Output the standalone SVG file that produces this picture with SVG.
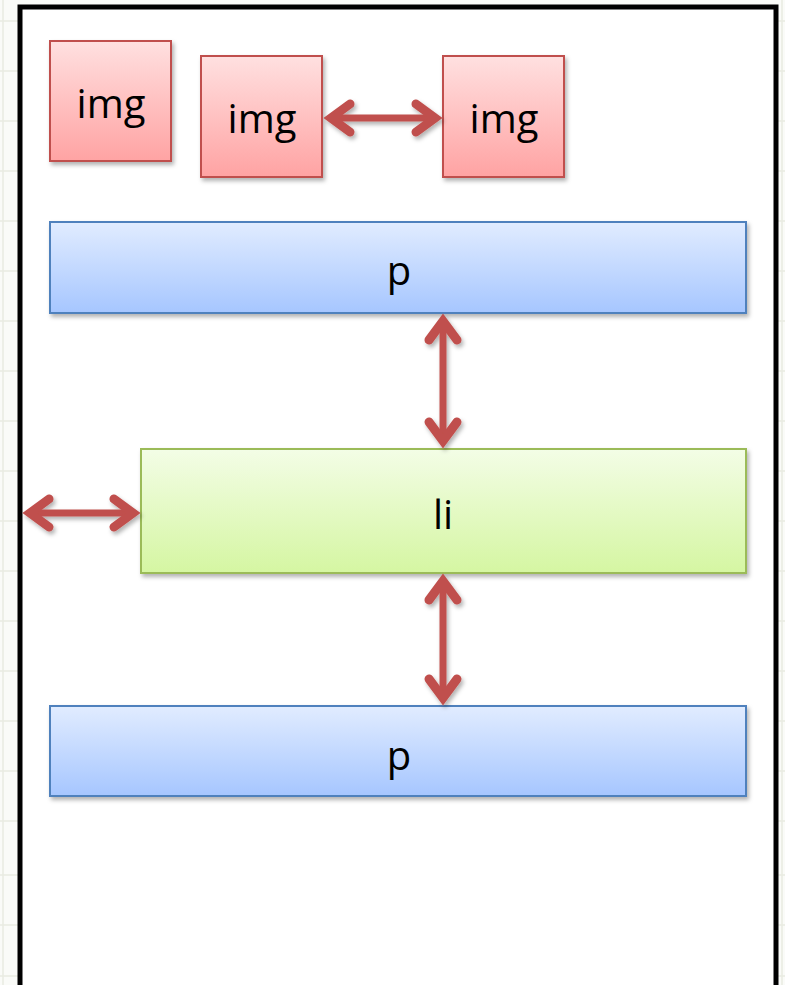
<svg xmlns="http://www.w3.org/2000/svg" width="785" height="985" viewBox="0 0 785 985">
  <style>
    .grid line { stroke: #e8ebe2; stroke-width: 1.5; }
    .lbl { font-family: "Open Sans", "Liberation Sans", sans-serif; font-size: 40px; fill: #000; text-anchor: middle; }
    .red { fill: url(#gRed); stroke: #c0504d; stroke-width: 2; }
    .blue { fill: url(#gBlue); stroke: #4f81bd; stroke-width: 2; }
    .green { fill: url(#gGreen); stroke: #9bbb59; stroke-width: 2; }
    .conn { stroke: #c0504d; stroke-width: 7; fill: none; marker-start: url(#ah); marker-end: url(#ah); }
  </style>
  <defs>
    <linearGradient id="gRed" x1="0" y1="0" x2="0" y2="1">
      <stop offset="0" stop-color="#ffe0e0"/>
      <stop offset="1" stop-color="#ffa3a3"/>
    </linearGradient>
    <linearGradient id="gBlue" x1="0" y1="0" x2="0" y2="1">
      <stop offset="0" stop-color="#e1ecff"/>
      <stop offset="1" stop-color="#a6c6ff"/>
    </linearGradient>
    <linearGradient id="gGreen" x1="0" y1="0" x2="0" y2="1">
      <stop offset="0" stop-color="#f3fde6"/>
      <stop offset="1" stop-color="#d5f6a2"/>
    </linearGradient>
    <filter id="sh" x="-10%" y="-10%" width="130%" height="140%">
      <feDropShadow dx="2" dy="3" stdDeviation="2" flood-color="#000" flood-opacity="0.3"/>
    </filter>
    <marker id="ah" markerUnits="userSpaceOnUse" viewBox="-30 -22 45 44" markerWidth="45" markerHeight="44" refX="0" refY="0" orient="auto-start-reverse" overflow="visible">
      <path d="M -17 -14 L 2 0 L -17 14" fill="none" stroke="#c0504d" stroke-width="9" stroke-linecap="round" stroke-linejoin="miter" stroke-miterlimit="4"/>
    </marker>
  </defs>

  <rect x="0" y="0" width="785" height="985" fill="#fafbf8"/>
  <g class="grid">
    <line x1="0" y1="21" x2="785" y2="21"/>
    <line x1="0" y1="71" x2="785" y2="71"/>
    <line x1="0" y1="121" x2="785" y2="121"/>
    <line x1="0" y1="171" x2="785" y2="171"/>
    <line x1="0" y1="221" x2="785" y2="221"/>
    <line x1="0" y1="271" x2="785" y2="271"/>
    <line x1="0" y1="321" x2="785" y2="321"/>
    <line x1="0" y1="371" x2="785" y2="371"/>
    <line x1="0" y1="421" x2="785" y2="421"/>
    <line x1="0" y1="471" x2="785" y2="471"/>
    <line x1="0" y1="521" x2="785" y2="521"/>
    <line x1="0" y1="571" x2="785" y2="571"/>
    <line x1="0" y1="621" x2="785" y2="621"/>
    <line x1="0" y1="671" x2="785" y2="671"/>
    <line x1="0" y1="721" x2="785" y2="721"/>
    <line x1="0" y1="771" x2="785" y2="771"/>
    <line x1="0" y1="821" x2="785" y2="821"/>
    <line x1="0" y1="875" x2="785" y2="875"/>
    <line x1="0" y1="925" x2="785" y2="925"/>
    <line x1="0" y1="976" x2="785" y2="976"/>
    <line x1="3" y1="0" x2="3" y2="985"/>
    <line x1="782" y1="0" x2="782" y2="985"/>
  </g>

  <rect id="frame" x="20" y="7" width="756" height="1000" fill="#ffffff" stroke="#000000" stroke-width="5"/>

  <g id="img1">
    <rect class="red" x="50" y="41" width="121" height="120" filter="url(#sh)"/>
    <text class="lbl" x="111" y="118">img</text>
  </g>
  <g id="img2">
    <rect class="red" x="201" y="56" width="121" height="121" filter="url(#sh)"/>
    <text class="lbl" x="262" y="133">img</text>
  </g>
  <g id="img3">
    <rect class="red" x="443" y="56" width="121" height="121" filter="url(#sh)"/>
    <text class="lbl" x="504" y="133">img</text>
  </g>
  <g id="p1">
    <rect class="blue" x="50" y="222" width="696" height="91" filter="url(#sh)"/>
    <text class="lbl" x="399" y="285">p</text>
  </g>
  <g id="li">
    <rect class="green" x="141" y="449" width="605" height="124" filter="url(#sh)"/>
    <text class="lbl" x="443" y="529">li</text>
  </g>
  <g id="p2">
    <rect class="blue" x="50" y="706" width="696" height="90" filter="url(#sh)"/>
    <text class="lbl" x="399" y="770">p</text>
  </g>

  <g id="connectors" filter="url(#sh)">
    <path class="conn" d="M 333 118 L 433 118"/>
    <path class="conn" d="M 443 323 L 443 439"/>
    <path class="conn" d="M 32 513 L 131 513"/>
    <path class="conn" d="M 443 583 L 443 696"/>
  </g>
</svg>
